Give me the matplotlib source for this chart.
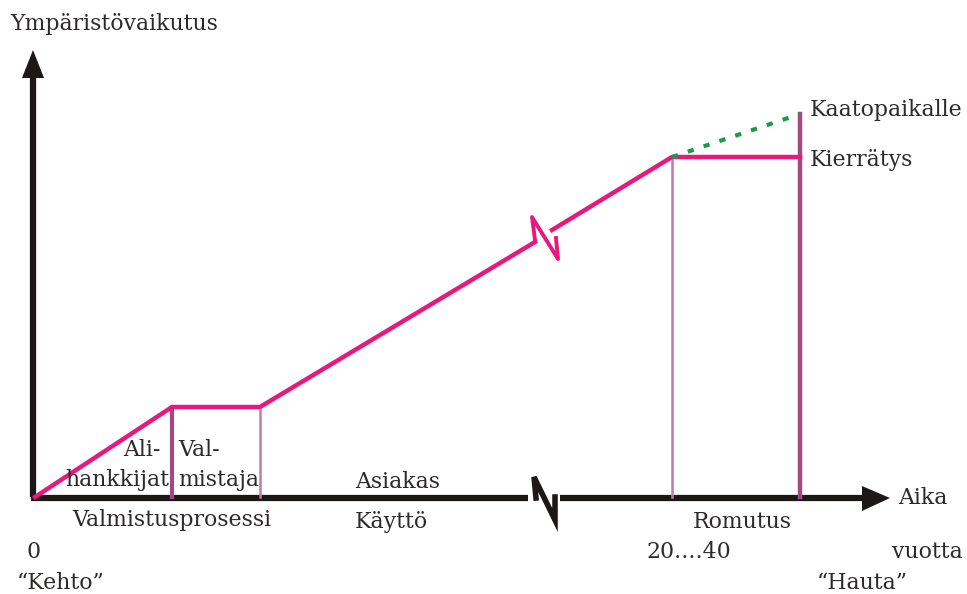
# Elinkaaren ympäristövaikutus: kehdosta hautaan

import matplotlib.pyplot as plt

FONT = 'DejaVu Serif'
FS = 15.8
TEXT_COLOR = '#2e2a2a'
PINK = '#e8187f'
GREEN = '#1a9a4a'
AXIS = '#1c1818'

# Vaiheiden rajat aika-akselilla (kuvan yksiköissä) ja ympäristövaikutus
stage_x = [0, 137, 225, 637, 765]
impact = [0, 90, 90, 340, 340]
landfill_impact = 383
# Katkos käyttövaiheen keskellä
break_x = [500, 517]
break_impact = [255, 267]
curve_zigzag_x = [500, 497, 523, 521]
curve_zigzag_y = [257, 280, 238, 259]
axis_break = [493, 525]
axis_zigzag_x = [501, 499, 520, 520]
axis_zigzag_y = [-1, 20, -23, 0]

x_axis_end = 855
y_axis_end = 447

labels = [
    ("Ympäristövaikutus", -25, 473),
    ("Kaatopaikalle", 775, 387),
    ("Kierrätys", 775, 337),
    ("Aika", 863, -1),
    ("Romutus", 658, -25),
    ("20....40", 612, -55),
    ("vuotta", 857, -55),
    ("\u201cHauta\u201d", 782, -86),
    ("Valmistusprosessi", 37, -23),
    ("0", -8, -55),
    ("\u201cKehto\u201d", -18, -86),
    ("Ali-", 88, 47),
    ("hankkijat", 30, 17),
    ("Val-", 143, 47),
    ("mistaja", 143, 17),
    ("Asiakas", 320, 15),
    ("Käyttö", 320, -25),
]


def main():
    fig = plt.figure(figsize=(9.67, 5.94), dpi=100)
    ax = fig.add_axes([0, 0, 1, 1])
    ax.set_xlim(-35, 932)
    ax.set_ylim(-97, 497)
    ax.set_axis_off()

    # Akselit katkoksineen
    ax.plot([-2, -2], [0, y_axis_end - 25], color=AXIS, lw=4.5, solid_capstyle='butt')
    ax.fill([-2 - 11, -2, -2 + 11], [y_axis_end - 28, y_axis_end, y_axis_end - 28], color=AXIS, lw=0)
    ax.plot([-4, axis_break[0]], [-1, -1], color=AXIS, lw=4.5, solid_capstyle='butt')
    ax.plot([axis_break[1], x_axis_end - 25], [-1, -1], color=AXIS, lw=4.5, solid_capstyle='butt')
    ax.fill([x_axis_end - 28, x_axis_end, x_axis_end - 28], [-1 + 12, -1, -1 - 13], color=AXIS, lw=0)
    ax.plot(axis_zigzag_x, axis_zigzag_y, color=AXIS, lw=4, solid_joinstyle='miter')

    # Pystyviivat vaiheiden rajoilla
    ax.plot([stage_x[1]] * 2, [0, impact[1]], color='#a04a85', lw=3)
    ax.plot([stage_x[2]] * 2, [0, impact[2]], color='#c27aa9', lw=1.8)
    ax.plot([stage_x[3]] * 2, [0, impact[3]], color='#c27aa9', lw=1.8)
    ax.plot([stage_x[4]] * 2, [0, landfill_impact], color='#a04a85', lw=3.2)

    # Vaikutuskäyrä
    ax.plot(stage_x[:3] + [break_x[0]], impact[:3] + [break_impact[0]],
            color=PINK, lw=3.2, solid_joinstyle='round')
    ax.plot([break_x[1]] + stage_x[3:], [break_impact[1]] + impact[3:],
            color=PINK, lw=3.2, solid_joinstyle='round')
    ax.plot(curve_zigzag_x, curve_zigzag_y, color=PINK, lw=2.8)
    ax.plot([stage_x[3], stage_x[4]], [impact[3], landfill_impact],
            color=GREEN, lw=3, ls=(0, (1.5, 2.5)))

    for text, x, y in labels:
        ax.text(x, y, text, ha='left', va='center', fontsize=FS,
                family=FONT, color=TEXT_COLOR)

    fig.savefig('out.png', dpi=100)


if __name__ == "__main__":
    main()
